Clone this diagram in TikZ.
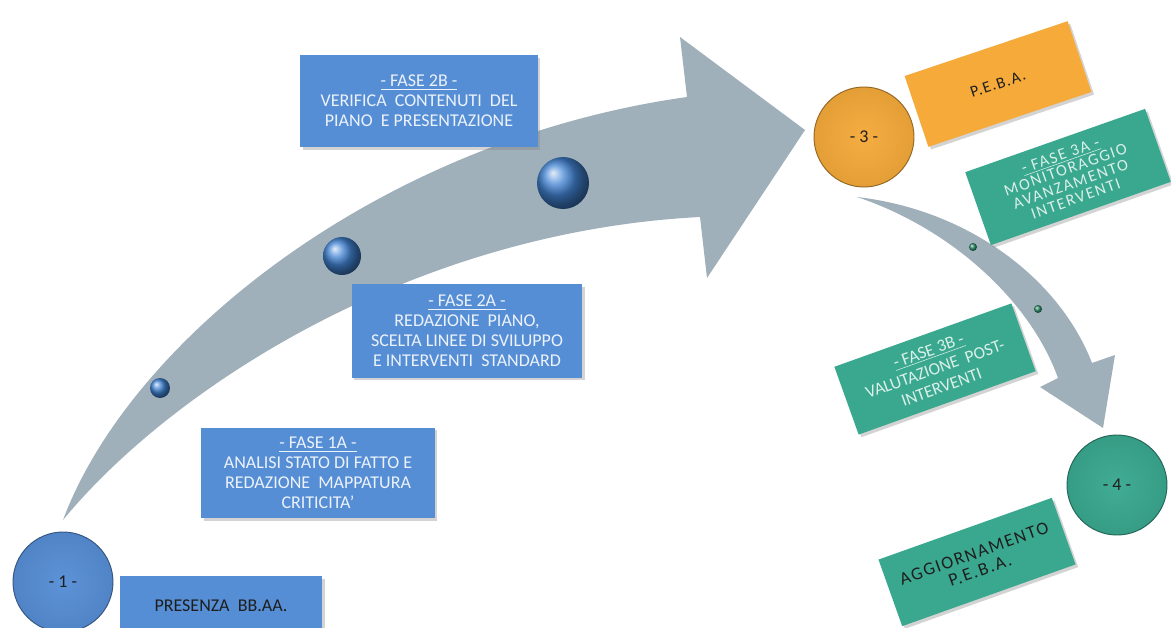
\documentclass[tikz,border=0pt]{standalone}
\usepackage{fontspec}
\setmainfont{Carlito}
\usetikzlibrary{shadows}

\definecolor{boxblue}{RGB}{86,142,213}
\definecolor{ballblue}{RGB}{66,132,212}
\definecolor{boxorange}{RGB}{245,170,58}
\definecolor{boxgreen}{RGB}{58,168,143}
\definecolor{dotgreen}{RGB}{45,140,105}
\definecolor{arrowgray}{RGB}{160,176,186}
\definecolor{bluetext}{RGB}{236,242,250}
\definecolor{greentext}{RGB}{218,240,233}
\definecolor{darktext}{RGB}{30,30,30}

\tikzset{
  fase/.style={rectangle, align=center, inner sep=2pt,
    font=\fontsize{13.5}{15}\selectfont,
    drop shadow={opacity=0.35,shadow xshift=2pt,shadow yshift=-2pt}},
  bluebox/.style={fase, fill=boxblue, text=bluetext},
  greenbox/.style={fase, fill=boxgreen, text=greentext},
  tappa/.style={circle, minimum size=75pt, draw=#1!60!black, line width=0.7pt,
    inner color=#1!96!white, outer color=#1!93!black,
    text=darktext, font=\fontsize{13.5}{15}\selectfont},
  perla/.style={circle, inner sep=0pt, minimum size=#1, ball color=ballblue},
  seme/.style={circle, inner sep=0pt, minimum size=6pt, ball color=dotgreen}
}

\begin{document}
\begin{tikzpicture}[x=0.75pt,y=-0.75pt]
\useasboundingbox (0,0) rectangle (1171,628);
\clip (0,0) rectangle (1171,628);

% big curved arrow
\fill[arrowgray] (63,520) .. controls (130,340) and (380,140) .. (687,97)
  -- (680,37) -- (805,130) -- (707,278) -- (700,217)
  .. controls (410,232) and (170,390) .. (63,520) -- cycle;
% small curved arrow
\fill[arrowgray] (857,197) .. controls (970,210) and (1060,280) .. (1092,363)
  -- (1115,355) -- (1103,428) -- (1040,387) -- (1058,378)
  .. controls (1030,300) and (950,228) .. (857,197) -- cycle;

% beads on the arrows
\node[perla=15pt] (p1) at (160,388) {};
\node[perla=28.5pt] (p2) at (342,256) {};
\node[perla=39pt] (p3) at (563,183) {};
\node[seme] (s1) at (973,247) {};
\node[seme] (s2) at (1038,309) {};

% steps
\node[tappa=boxblue] (t1) at (63,582) {- 1 -};
\node[tappa=boxorange] (t3) at (864,137) {- 3 -};
\node[tappa=boxgreen] (t4) at (1117,485) {- 4 -};

\node[fase, fill=boxblue, text=darktext, minimum width=152pt, minimum height=45pt]
  (presenza) at (221,606) {PRESENZA\ \ BB.AA.};
\node[bluebox, minimum width=175pt, minimum height=68pt] (f1a) at (318,473)
  {\underline{- FASE 1A -}\\ ANALISI STATO DI FATTO E\\ REDAZIONE\ \ MAPPATURA\\ CRITICITA'};
\node[bluebox, minimum width=173pt, minimum height=70pt] (f2a) at (467,331)
  {\underline{- FASE 2A -}\\ REDAZIONE\ \ PIANO,\\ SCELTA LINEE DI SVILUPPO\\ E INTERVENTI\ \ STANDARD};
\node[bluebox, minimum width=178pt, minimum height=69pt] (f2b) at (419,101)
  {\underline{- FASE 2B -}\\ VERIFICA\ \ CONTENUTI\ \ DEL\\ PIANO\ \ E PRESENTAZIONE};

\node[fase, fill=boxorange, text=darktext, rotate=18.6, minimum width=129pt,
  minimum height=56pt, font=\fontsize{12}{14}\selectfont] (peba) at (998,84)
  {\addfontfeature{LetterSpace=8}P.E.B.A.};
\node[greenbox, rotate=19.4, minimum width=143pt, minimum height=58pt,
  font=\fontsize{12.2}{11.5}\selectfont] (f3a) at (1068,177)
  {\addfontfeature{LetterSpace=10}\underline{- FASE 3A -}\\
   \addfontfeature{LetterSpace=10}MONITORAGGIO\\
   \addfontfeature{LetterSpace=10}AVANZAMENTO\\
   \addfontfeature{LetterSpace=10}INTERVENTI};
\node[greenbox, rotate=19.7, minimum width=141pt, minimum height=54pt,
  font=\fontsize{13}{14.5}\selectfont] (f3b) at (935,369)
  {\underline{- FASE 3B -}\\ VALUTAZIONE\ \ POST-\\ INTERVENTI};
\node[fase, fill=boxgreen, text=darktext, rotate=19.6, minimum width=138pt,
  minimum height=53pt, font=\fontsize{13.5}{13.5}\selectfont] (aggiorna) at (977,562)
  {\addfontfeature{LetterSpace=9}AGGIORNAMENTO\\ \addfontfeature{LetterSpace=9}P.E.B.A.};
\end{tikzpicture}
\end{document}
